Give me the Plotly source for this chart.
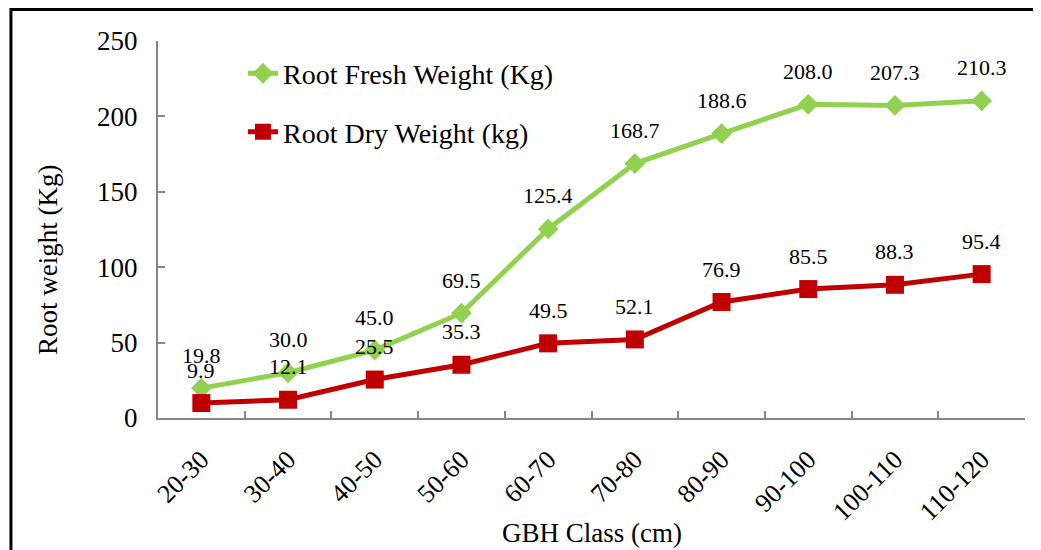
import plotly.graph_objects as go

# GBH classes and root weights
gbhClass = ["20-30", "30-40", "40-50", "50-60", "60-70", "70-80",
            "80-90", "90-100", "100-110", "110-120"]
freshWeight = [19.8, 30.0, 45.0, 69.5, 125.4, 168.7, 188.6, 208.0, 207.3, 210.3]
dryWeight = [9.9, 12.1, 25.5, 35.3, 49.5, 52.1, 76.9, 85.5, 88.3, 95.4]

FONT = "Liberation Serif, Times New Roman, serif"
GREEN = "#92D050"
RED = "#C00000"
AXIS = "#868686"

fig = go.Figure()
fig.add_trace(go.Scatter(x=gbhClass, y=freshWeight, name="Root Fresh Weight (Kg)",
                         mode="lines+markers", legendgroup="f",
                         line=dict(color=GREEN, width=5),
                         marker=dict(symbol="diamond", size=16, color=GREEN)))
fig.add_trace(go.Scatter(x=gbhClass, y=dryWeight, name="Root Dry Weight (kg)",
                         mode="lines+markers", legendgroup="d",
                         line=dict(color=RED, width=5),
                         marker=dict(symbol="square", size=18, color=RED)))

# data labels above each point
annos = []
for series in (freshWeight, dryWeight):
    for c, v in zip(gbhClass, series):
        annos.append(dict(x=c, y=v, text="%.1f" % v, showarrow=False,
                          yshift=33, font=dict(family=FONT, size=22, color="black")))

# axis titles placed like the original
annos.append(dict(xref="paper", yref="paper", x=-0.127, y=0.419, text="Root weight (Kg)",
                  textangle=-90, showarrow=False, xanchor="center", yanchor="middle",
                  font=dict(family=FONT, size=27, color="black")))
annos.append(dict(xref="paper", yref="paper", x=0.5, y=-0.306, text="GBH Class (cm)",
                  showarrow=False, xanchor="center", yanchor="middle",
                  font=dict(family=FONT, size=27, color="black")))

# page body adds an 8px offset, so the figure is 8px smaller on each side
fig.update_layout(
    width=1033, height=542,
    margin=dict(l=150, r=16, t=33, b=132, autoexpand=False),
    plot_bgcolor="white", paper_bgcolor="white",
    font=dict(family=FONT, size=27, color="black"),
    annotations=annos,
    legend=dict(x=0.098, y=0.98, xanchor="left", yanchor="top",
                bgcolor="rgba(0,0,0,0)", tracegroupgap=19,
                font=dict(family=FONT, size=28, color="black")),
    shapes=[dict(type="rect", xref="paper", yref="paper",
                 x0=-0.1696, x1=1.2, y0=-0.6, y1=1.0836,
                 line=dict(color="black", width=3))],
)
fig.update_xaxes(type="category", range=[-0.5, 9.5], tickson="boundaries",
                 automargin=False,
                 showline=True, linecolor=AXIS, linewidth=2,
                 ticks="inside", ticklen=7, tickcolor=AXIS, tickwidth=1.5,
                 tickangle=-45, showgrid=False, zeroline=False, ticklabelstandoff=14,
                 tickfont=dict(family=FONT, size=26, color="black"))
fig.update_yaxes(range=[0, 250], dtick=50, automargin=False,
                 showline=True, linecolor=AXIS, linewidth=2,
                 ticks="inside", ticklen=7, tickcolor=AXIS, tickwidth=1.5,
                 showgrid=False, zeroline=False, ticklabelstandoff=13,
                 tickfont=dict(family=FONT, size=27, color="black"))

fig.write_html("out.html")
